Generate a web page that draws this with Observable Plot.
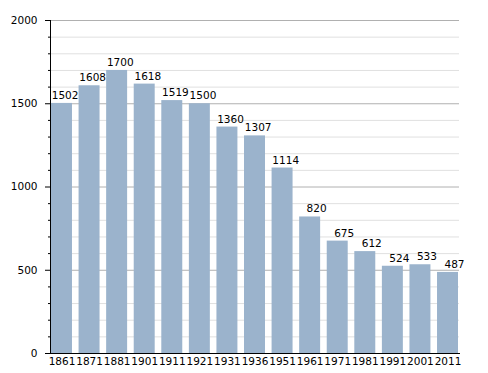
<!DOCTYPE html>
<html>
<head>
<meta charset="utf-8">
<script src="https://cdn.jsdelivr.net/npm/d3@7"></script>
<script src="https://cdn.jsdelivr.net/npm/@observablehq/plot@0.6"></script>
<style>
  html, body { margin: 0; padding: 0; background: #fff; }
  svg, svg text { font-family: "DejaVu Sans", sans-serif !important; }
</style>
</head>
<body>
<div id="chart"></div>
<script>
const years = ["1861","1871","1881","1901","1911","1921","1931","1936","1951","1961","1971","1981","1991","2001","2011"];
const population = [1502,1608,1700,1618,1519,1500,1360,1307,1114,820,675,612,524,533,487];
const majorTicks = [0,500,1000,1500,2000];
const minorTicks = d3.range(0, 2001, 100).filter(v => v % 500 !== 0);

const data = years.map((y, i) => ({year: y, value: population[i]}));

const chart = Plot.plot({
  width: 488,
  height: 373,
  marginLeft: 50,
  marginRight: 29,
  marginTop: 20,
  marginBottom: 20,
  style: {fontFamily: "DejaVu Sans", fontSize: "10.5px", color: "#000", background: "#fff"},
  x: {domain: years, range: [47.7, 461.3], padding: 0, round: false, label: null},
  y: {domain: [0, 2000], label: null},
  marks: [
    Plot.ruleY(minorTicks, {stroke: "#e0e0e0", strokeWidth: 1}),
    Plot.ruleY(majorTicks, {stroke: "#b0b0b0", strokeWidth: 1}),
    Plot.barY(data, {x: "year", y: "value", fill: "#9bb3cc", insetLeft: 3.3, insetRight: 3.3}),
    Plot.text(data, {x: "year", y: "value", text: d => String(d.value), textAnchor: "end", dx: 16.5, dy: -4.5, lineAnchor: "bottom", fill: "#000", fontSize: 10.5}),
    Plot.axisY(minorTicks, {tickSize: 2, text: null, stroke: "#000"}),
    Plot.axisY(majorTicks, {tickSize: 5, tickPadding: 8, stroke: "#000", fontSize: 10.5, tickFormat: d => String(d)}),
    Plot.axisX({tickSize: 0, tickPadding: 4, fontSize: 10.5}),
    Plot.frame({anchor: "left", stroke: "#000"}),
    Plot.frame({anchor: "bottom", stroke: "#000"})
  ]
});
document.getElementById("chart").appendChild(chart);
</script>
</body>
</html>
